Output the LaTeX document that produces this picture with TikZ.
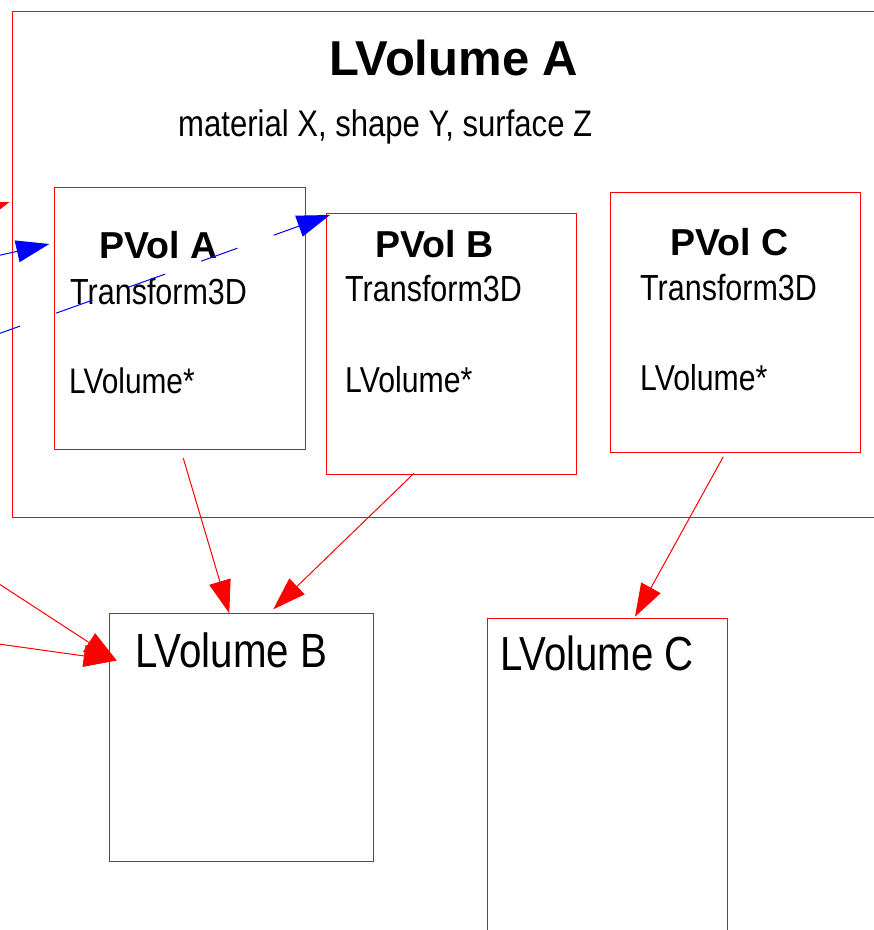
\documentclass[tikz,border=0pt]{standalone}
\usepackage{fontspec}
\setmainfont{Liberation Sans}
\newfontfamily\narrowsans[FakeStretch=0.84]{Liberation Sans}
\usetikzlibrary{arrows.meta}

\begin{document}
\begin{tikzpicture}[x=1pt,y=-1pt,
  volbox/.style={draw=red, line width=1pt, inner sep=0pt, anchor=north west},
  title/.style={inner sep=0pt, anchor=base, font=\bfseries\fontsize{#1}{#1}\selectfont},
  txt/.style={inner sep=0pt, anchor=base west, font=\narrowsans\fontsize{#1}{#1}\selectfont},
  tipstyle/.style={-{Triangle[length=33pt,width=22pt]}},
  redlink/.style={draw=red, line width=1pt, tipstyle},
  bluelink/.style={draw=blue, line width=1pt, tipstyle},
  bluedash/.style={draw=blue, line width=1pt, dash pattern=on 38.5pt off 38.5pt}]
\useasboundingbox (0,0) rectangle (874,930);
\clip (0,0) rectangle (874,930);

% logical volume A with its three placements
\node[volbox, minimum width=880pt, minimum height=505.5pt] (lva) at (12,11) {};
\node[title=49] (lvaname) at (454,75) {LVolume A};
\node[txt=37] (lvaprops) at (178,136) {material X, shape Y, surface Z};

\node[volbox, minimum width=250.4pt, minimum height=261.7pt] (pva) at (54.3,187.3) {};
\node[title=37.5] (pvaname) at (158.5,258) {PVol A};
\node[txt=36.3] (pvatr) at (70,304) {Transform3D};
\node[txt=35.5] (pvalv) at (69,393) {LVolume*};

\node[volbox, minimum width=250.3pt, minimum height=261pt] (pvb) at (325.7,213.3) {};
\node[title=37.5] (pvbname) at (434.5,257) {PVol B};
\node[txt=36.3] (pvbtr) at (345,301) {Transform3D};
\node[txt=36] (pvblv) at (345,392) {LVolume*};

\node[volbox, minimum width=250pt, minimum height=260.6pt] (pvc) at (610,191.7) {};
\node[title=37.5] (pvcname) at (729.5,255) {PVol C};
\node[txt=36.3] (pvctr) at (640,300) {Transform3D};
\node[txt=36] (pvclv) at (640,390) {LVolume*};

% daughter logical volumes
\node[volbox, minimum width=263.4pt, minimum height=247.7pt] (lvb) at (109.3,613.3) {};
\node[txt=48] (lvbname) at (135,667) {LVolume B};

\node[volbox, minimum width=239.4pt, minimum height=340pt] (lvc) at (487.3,617.7) {};
\node[txt=47.8] (lvcname) at (500,670) {LVolume C};

% connector end points
\coordinate (pa-out) at (183.3,458.3);
\coordinate (lvb-inA) at (229.3,613.3);
\coordinate (pb-out) at (414,473.3);
\coordinate (lvb-inB) at (273.3,609.3);
\coordinate (pc-out) at (723.3,456.7);
\coordinate (lvc-in) at (635,616.7);
\coordinate (far1) at (-30,565);
\coordinate (far2) at (-30,640);
\coordinate (lvb-left) at (116.7,660.5);
\coordinate (far3) at (-60,226);
\coordinate (lva-left) at (9.5,202);
\coordinate (far4) at (-30,262);
\coordinate (pva-left) at (49.3,244);
\coordinate (far5) at (-16.3,339.1);
\coordinate (pvb-corner) at (330,215);
\coordinate (dash-end) at (296,227.2);

% placement -> logical volume references
\draw[redlink] (pa-out) -- (lvb-inA);
\draw[redlink] (pb-out) -- (lvb-inB);
\draw[redlink] (pc-out) -- (lvc-in);
\draw[redlink] (far1) -- (lvb-left);
\draw[redlink] (far2) -- (lvb-left);
\draw[redlink] (far3) -- (lva-left);

% sibling links between placements
\draw[bluelink] (far4) -- (pva-left);
\draw[bluedash] (far5) -- (dash-end);
\draw[bluelink] (dash-end) -- (pvb-corner);
\end{tikzpicture}
\end{document}
